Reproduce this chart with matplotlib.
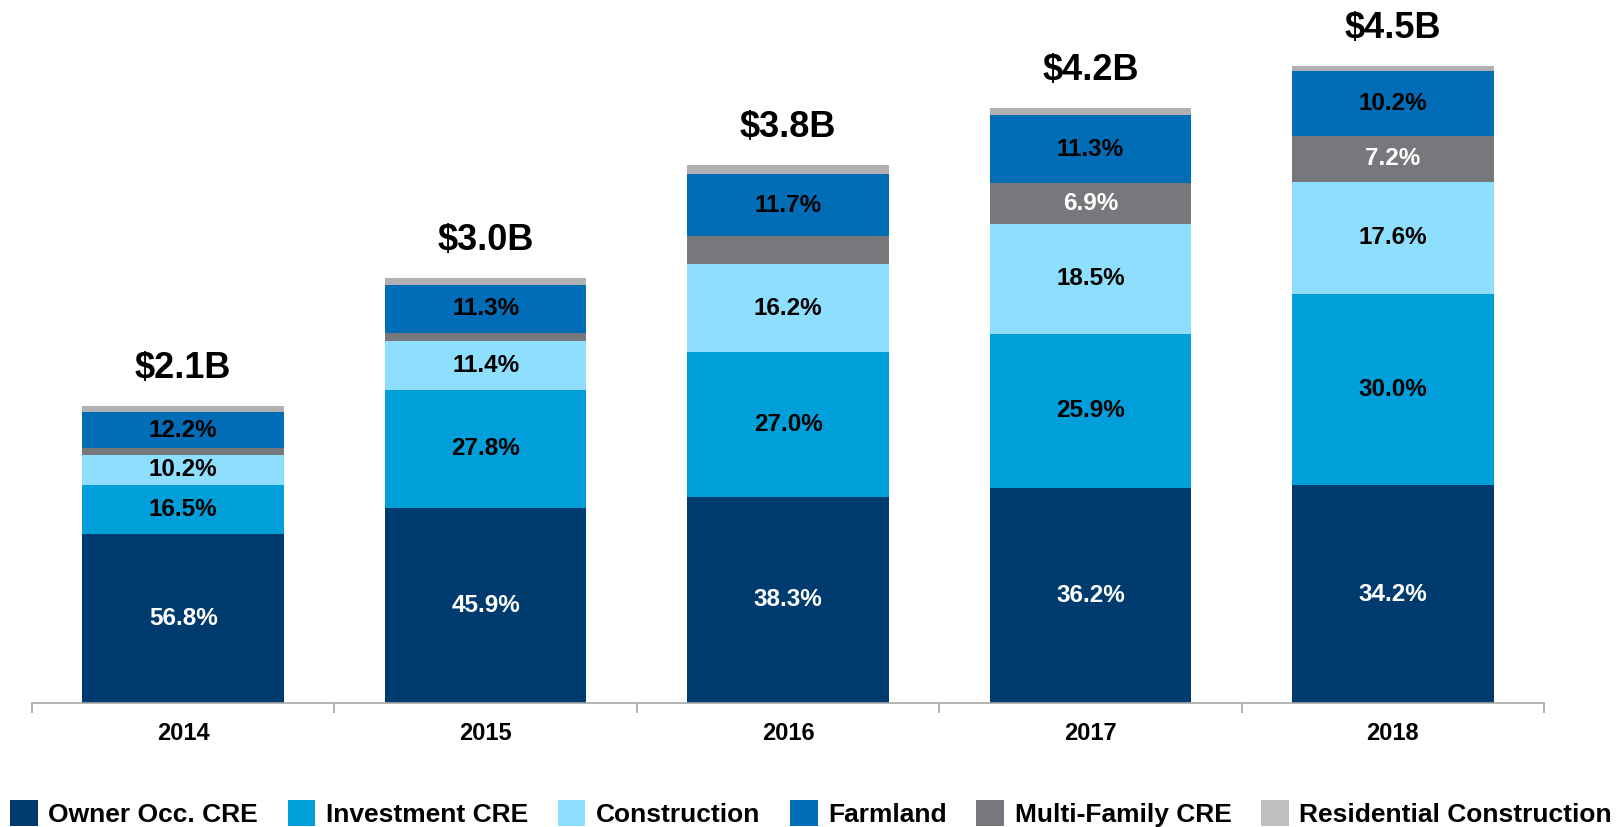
import matplotlib.pyplot as plt
import numpy as np
from matplotlib.patches import Patch

plt.rcParams['font.family'] = ['Liberation Sans', 'DejaVu Sans']
plt.rcParams['font.weight'] = 'bold'

# Data
years = ['2014', '2015', '2016', '2017', '2018']
totals = [2.1, 3.0, 3.8, 4.2, 4.5]  # $B
total_labels = ['$2.1B', '$3.0B', '$3.8B', '$4.2B', '$4.5B']

owner_occ = [56.8, 45.9, 38.3, 36.2, 34.2]
investment = [16.5, 27.8, 27.0, 25.9, 30.0]
construction = [10.2, 11.4, 16.2, 18.5, 17.6]
multi_family = [2.2, 2.0, 5.2, 6.9, 7.2]
farmland = [12.2, 11.3, 11.7, 11.3, 10.2]
residential = [2.1, 1.6, 1.6, 1.2, 0.8]

# which multi-family segments carry a printed label
multi_shown = [False, False, False, True, True]

segments = [
    ('Owner Occ. CRE', owner_occ, '#003B6F', 'white', [True] * 5),
    ('Investment CRE', investment, '#009FDA', 'black', [True] * 5),
    ('Construction', construction, '#8EDFFD', 'black', [True] * 5),
    ('Multi-Family CRE', multi_family, '#77787B', 'white', multi_shown),
    ('Farmland', farmland, '#006DB6', 'black', [True] * 5),
    ('Residential Construction', residential, '#B1B1B3', 'black', [False] * 5),
]
legend_order = ['Owner Occ. CRE', 'Investment CRE', 'Construction',
                'Farmland', 'Multi-Family CRE', 'Residential Construction']
legend_colors = {'Owner Occ. CRE': '#003B6F', 'Investment CRE': '#009FDA',
                 'Construction': '#8EDFFD', 'Farmland': '#006DB6',
                 'Multi-Family CRE': '#77787B',
                 'Residential Construction': '#BFBFBF'}

fig = plt.figure(figsize=(16.22, 8.27), dpi=100)
ax = fig.add_axes([32 / 1622, 124 / 827, 1512 / 1622, 703 / 827])

x = np.arange(len(years))
tot = np.array(totals)
bottom = np.zeros(len(years))
for name, pct, color, tcolor, shown in segments:
    h = tot * np.array(pct) / 100.0
    ax.bar(x, h, width=0.667, bottom=bottom, color=color, linewidth=0)
    for i in range(len(years)):
        if shown[i]:
            ax.text(x[i], bottom[i] + h[i] / 2, f'{pct[i]:.1f}%',
                    ha='center', va='center', fontsize=17.5,
                    fontweight='bold', color=tcolor)
    bottom += h

# totals above bars
for i in range(len(years)):
    ax.annotate(total_labels[i], (x[i], bottom[i]), xytext=(0, 27),
                textcoords='offset points', ha='center', va='center',
                fontsize=26, fontweight='bold', color='black')

ax.set_xlim(-0.5, 4.5)
ax.set_ylim(0, 703 / 141.6)
for side in ('top', 'right', 'left'):
    ax.spines[side].set_visible(False)
ax.spines['bottom'].set_color('#A6A6A6')
ax.spines['bottom'].set_linewidth(1.2)
ax.set_yticks([])
ax.set_xticks(x)
ax.set_xticklabels(years, fontsize=17, fontweight='bold')
ax.tick_params(axis='x', which='major', length=0, pad=14)
ax.set_xticks(np.arange(-0.5, 5.0, 1.0), minor=True)
ax.tick_params(axis='x', which='minor', length=7, color='#A6A6A6',
               width=1.2)

handles = [Patch(facecolor=legend_colors[n], edgecolor='none')
           for n in legend_order]
fig.legend(handles, legend_order, loc='upper left',
           bbox_to_anchor=(10 / 1622, 27 / 827), ncol=6, frameon=False,
           handlelength=1.05, handleheight=1.15,
           handletextpad=0.4, columnspacing=1.12, borderpad=0,
           borderaxespad=0, prop={'weight': 'bold', 'size': 19})

fig.savefig('out.png', dpi=100)
